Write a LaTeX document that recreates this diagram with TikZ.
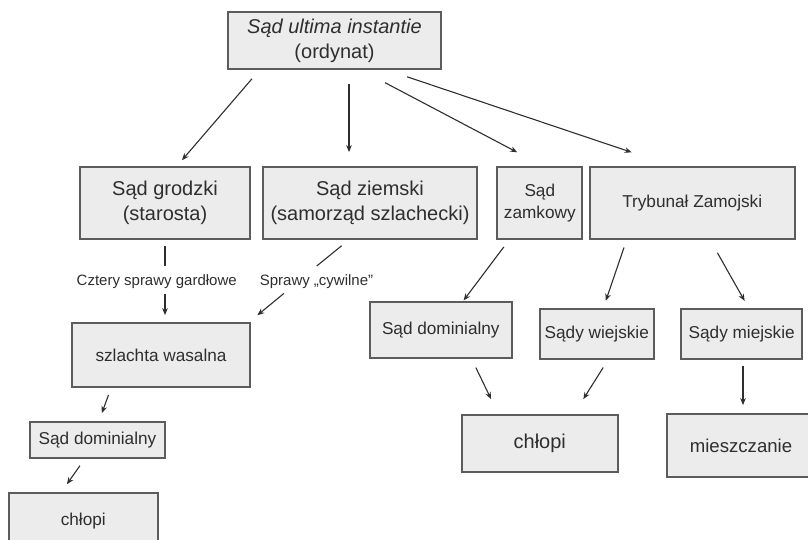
\documentclass[tikz,border=0pt]{standalone}
\usepackage{fontspec}
\setmainfont{Liberation Sans}
\usetikzlibrary{arrows.meta}
\definecolor{boxfill}{HTML}{ECECEC}
\definecolor{boxline}{HTML}{5C5C5C}
\definecolor{ink}{HTML}{2E2E2E}
\begin{document}
\begin{tikzpicture}[x=1pt,y=-1pt,
  court/.style={draw=boxline,fill=boxfill,line width=1.8pt,text=ink,align=center,inner sep=0pt},
  big/.style={font=\fontsize{20}{25}\selectfont},
  mid/.style={font=\fontsize{17.2}{22}\selectfont},
  lbl/.style={font=\fontsize{15}{18}\selectfont,text=ink,inner sep=0pt,text height=11pt,text depth=3pt},
  link/.style={draw=ink,line width=1.1pt},
  arr/.style={link,-{Stealth[length=7pt,width=5.6pt]}}]%
  \useasboundingbox (0,0) rectangle (808,540);
  \clip (0,0) rectangle (808,540);

  \node[court,big,minimum width=213pt,minimum height=57pt] (ultima) at (334.5,40.5)
        {\textit{Sąd ultima instantie}\\(ordynat)};
  \node[court,big,minimum width=170pt,minimum height=72pt] (grodzki) at (165,203)
        {Sąd grodzki\\(starosta)};
  \node[court,big,minimum width=214pt,minimum height=72pt] (ziemski) at (370,203)
        {Sąd ziemski\\(samorząd szlachecki)};
  \node[court,mid,minimum width=85pt,minimum height=72pt] (zamkowy) at (539.8,203)
        {Sąd\\zamkowy};
  \node[court,mid,minimum width=205pt,minimum height=72pt] (trybunal) at (692.2,203)
        {Trybunał Zamojski};

  \node[lbl] (gard) at (156.7,281.7) {Cztery sprawy gardłowe};
  \node[lbl] (civ) at (316.5,281.7) {Sprawy „cywilne”};

  \node[court,mid,minimum width=178pt,minimum height=64.6pt] (wasalna) at (161,355)
        {szlachta wasalna};
  \node[court,mid,minimum width=135pt,minimum height=36pt] (domL) at (97.5,440.3)
        {Sąd dominialny};
  \node[court,mid,minimum width=148.7pt,minimum height=56.7pt] (chlopiL) at (83.3,521)
        {chłopi};

  \node[court,mid,minimum width=141.7pt,minimum height=56.6pt] (domR) at (440.8,330)
        {Sąd dominialny};
  \node[court,mid,minimum width=114.3pt,minimum height=50pt] (wiejskie) at (596.8,334)
        {Sądy wiejskie};
  \node[court,mid,minimum width=121.3pt,minimum height=50pt] (miejskie) at (741.7,334)
        {Sądy miejskie};
  \node[court,big,minimum width=156.3pt,minimum height=56.7pt] (chlopiR) at (539.8,443.3)
        {chłopi};
  \node[court,big,font=\fontsize{18.6}{22}\selectfont,minimum width=148.6pt,minimum height=62.4pt]
        (mieszcz) at (741,445.5) {mieszczanie};

  % lines broken by the labels
  \foreach \a/\sa/\b/\sb/\ca/\cb in {grodzki/0/gard/8.3/6/8.7,
                                      ziemski/-21.2/civ/-10.2/9.3/13.5}
  \draw[link,shorten <=\ca pt,shorten >=\cb pt]
        ([xshift=\sa pt]\a.south) -- ([xshift=\sb pt]\b.north);

  \foreach \a/\sa/\b/\sb/\ca/\cb in {ultima/-74.9/grodzki/11.9/11.8/7.8,
                                      ultima/14.5/ziemski/-21/14/14,
                                      ultima/26.3/zamkowy/3.6/27.5/29.6,
                                      ultima/52.1/trybunal/-19.6/21.6/43.2,
                                      gard/8.3/wasalna/4/4.6/6.7,
                                      civ/-27.1/wasalna/88.4/7.1/10.3,
                                      wasalna/-50/domL/1.3/7.1/8.8,
                                      domL/-13/chlopiL/-21.7/8/9.2,
                                      zamkowy/-30.7/domR/22.5/8.7/0.5,
                                      trybunal/-65.6/wiejskie/6.5/8.1/7.7,
                                      trybunal/17.9/miejskie/7/14.8/8.3,
                                      domR/31/chlopiR/-41.5/9.3/16.6,
                                      wiejskie/11.2/chlopiR/34.1/9/17.6,
                                      miejskie/1.3/mieszcz/2/6/8.3}
  \draw[arr,shorten <=\ca pt,shorten >=\cb pt]
        ([xshift=\sa pt]\a.south) -- ([xshift=\sb pt]\b.north);
\end{tikzpicture}
\end{document}
